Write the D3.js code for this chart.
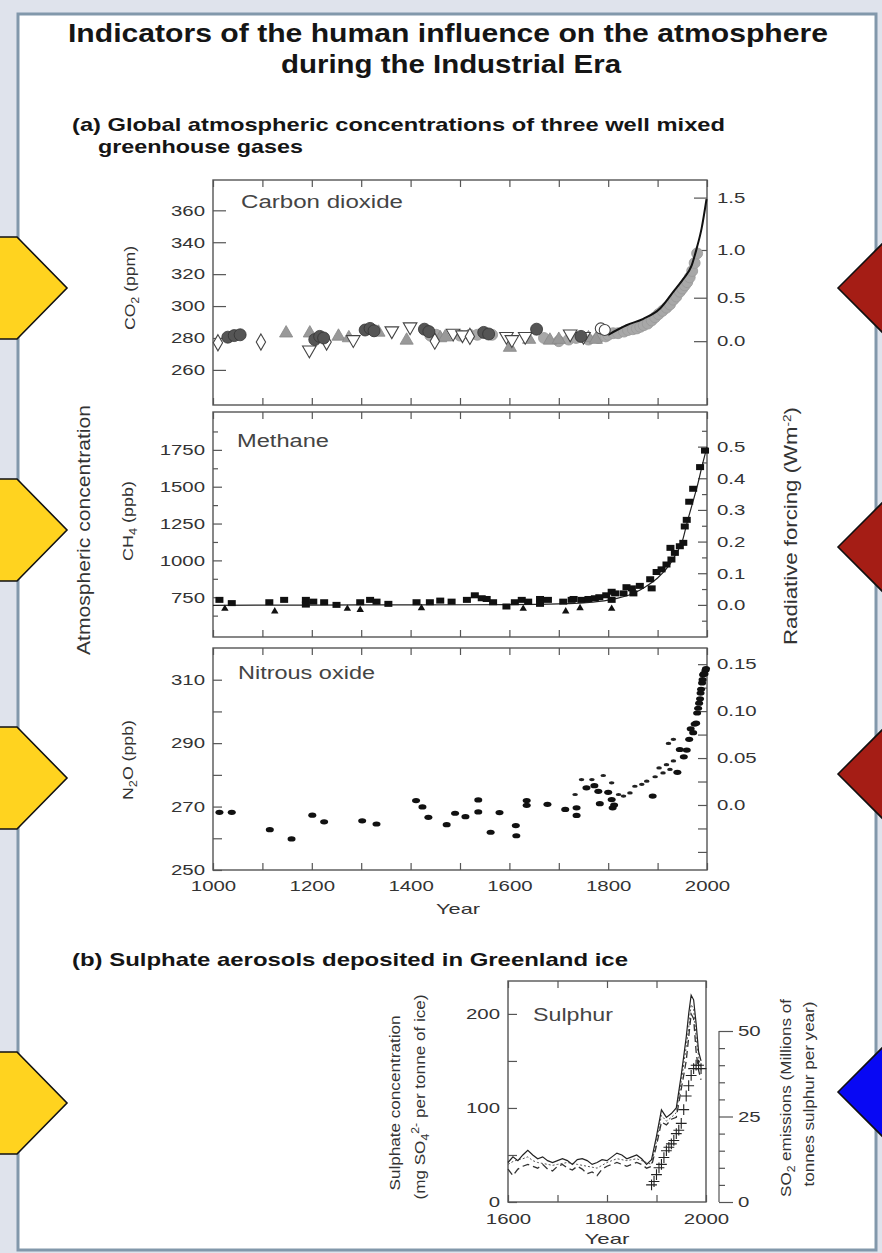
<!DOCTYPE html>
<html>
<head>
<meta charset="utf-8">
<script src="https://cdn.jsdelivr.net/npm/d3@7"></script>
<style>
  body { margin: 0; background: #dfe3ec; }
  text { font-family: "Liberation Sans", Arial, sans-serif; }
</style>
</head>
<body>
<svg id="chart" width="882" height="1253"></svg>
<script>
// ---- data ----

// CO2 (ppm) ice core / firn records, by marker type
const co2FilledCircles = [[1030,280.5],[1043,281.5],[1055,282],[1206,279],[1216,281],[1224,280],[1308,285],[1318,286],[1326,284.5],[1428,285.5],[1437,284],[1548,283.5],[1558,282.5],[1655,285.5],[1745,281]];
const co2OpenTriangles = [[1195,272.5],[1284,279],[1362,284.5],[1399,287],[1486,283],[1505,282],[1594,281],[1605,279],[1632,281],[1723,282.5],[1750,281]];
const co2GrayTriangles = [[1148,283],[1196,283],[1254,281],[1275,280],[1335,283.5],[1392,278.5],[1460,280],[1470,280.5],[1601,274],[1640,279],[1682,278.5],[1700,279],[1760,280],[1775,279]];
const co2Diamonds = [[1010,277],[1097,277.5],[1230,277.5],[1449,278],[1520,281]];
const co2OpenCircles = [[1785,286],[1793,285]];
const co2GrayCircles = [[1440,281.5],[1452,282],[1500,281.5],[1520,282],[1535,282],[1565,282],[1670,280],[1700,278],[1720,279],[1735,280],[1760,279],[1780,280],[1795,281],[1800,282],[1810,283],[1820,283],[1832,284],[1840,285],[1850,285.5],[1858,286],[1865,287],[1872,288],[1880,289],[1888,291],[1895,293],[1902,295],[1910,297],[1918,299],[1925,301],[1932,304],[1938,306],[1945,309],[1950,311],[1955,313],[1960,315],[1965,318],[1970,322],[1975,327],[1980,333]];
const co2Curve = [[1800,282],[1837,288],[1871,292],[1905,298.5],[1932,309],[1952,317],[1969,325.5],[1979,336],[1989,348.5],[1999,367]];
const co2ForcingTicks = [0, 0.5, 1.0, 1.5];

// CH4 (ppb)
const ch4Squares = [[1013,732],[1038,710],[1114,716],[1144,732],[1188,732],[1188,700],[1203,720],[1225,716],[1250,698],[1298,716],[1318,732],[1331,720],[1355,705],[1412,716],[1439,716],[1460,727],[1483,720],[1514,732],[1530,763],[1544,743],[1554,738],[1567,716],[1594,687],[1611,716],[1625,732],[1638,720],[1662,738],[1662,705],[1678,732],[1709,720],[1726,732],[1730,738],[1746,732],[1760,738],[1773,743],[1782,750],[1796,763],[1807,787],[1807,732],[1814,776],[1831,776],[1837,818],[1848,810],[1851,776],[1864,827],[1885,872],[1888,810],[1898,921],[1908,939],[1918,972],[1928,1006],[1926,1085],[1935,1051],[1945,1096],[1952,1119],[1955,1230],[1959,1275],[1964,1398],[1972,1486],[1986,1633],[1996,1745]];
const ch4Triangles = [[1024,672],[1125,654],[1272,672],[1298,665],[1422,676],[1628,672],[1714,654],[1743,676],[1807,672]];
const ch4Curve = [[1000,695],[1200,697],[1400,698],[1600,700],[1700,705],[1750,712],[1800,730],[1850,775],[1875,820],[1900,880],[1925,975],[1940,1060],[1950,1130],[1960,1260],[1970,1380],[1980,1500],[1990,1640],[2000,1770]];
const ch4ForcingTicks = [0, 0.1, 0.2, 0.3, 0.4, 0.5];

// N2O (ppb)
const n2oPoints = [[1013,268.2],[1038,268.2],[1115,262.7],[1159,259.8],[1201,267.3],[1225,265.2],[1302,265.5],[1331,264.5],[1411,271.9],[1424,269.9],[1436,266.6],[1473,264.3],[1490,267.9],[1511,266.8],[1537,272.1],[1537,268.3],[1562,261.9],[1580,268.1],[1613,264],[1614,260.8],[1635,271.9],[1635,270.4],[1677,270.7],[1713,269.1],[1736,269.6],[1736,267.2],[1756,275.9],[1772,276.6],[1780,274.8],[1783,270.9],[1800,274.5],[1807,272.2],[1809,269.6],[1812,270.5],[1890,273.3],[1940,280.8],[1945,288],[1953,285.7],[1959,287.8],[1964,291.2],[1967,294.5],[1972,293.3],[1975,296],[1978,296.3],[1980,299.5],[1982,301],[1984,302.6],[1986,304],[1987,305.8],[1988,307],[1990,309],[1991,310],[1992,311.6],[1994,312],[1995,311.8],[1997,313],[1998,313.5]];
const n2oSmall = [[1733,273.8],[1746,278.5],[1767,278.5],[1790,279.8],[1807,277.5],[1821,273.8],[1831,273.3],[1844,274.3],[1854,276.4],[1868,277],[1878,278],[1895,279.4],[1903,282.2],[1911,280.6],[1918,283.2],[1925,281.7],[1932,284.4],[1922,289.9],[1932,291.2]];
const n2oForcingTicks = [0, 0.05, 0.10, 0.15];

// Sulphate in Greenland ice (mg SO4 per tonne of ice), three cores
const sulphurYears = [1600,1610,1620,1630,1640,1650,1660,1670,1680,1690,1700,1710,1720,1730,1740,1750,1760,1770,1780,1790,1800,1810,1820,1830,1840,1850,1860,1870,1880,1890,1900,1910,1920,1930,1940,1950,1960,1965,1970,1975,1980,1985,1990];
const sulphurCoreA = [42,48,44,50,55,50,46,48,44,42,44,46,44,40,45,46,44,40,42,45,44,48,52,50,46,48,50,46,40,45,70,98,90,94,100,135,175,200,220,215,190,160,150];
const sulphurCoreB = [35,28,35,38,40,38,36,40,35,33,38,40,36,34,38,35,30,32,28,35,38,40,42,40,38,40,42,40,36,38,60,85,82,88,90,120,150,175,200,195,160,140,130];
const sulphurCoreC = [40,43,45,46,48,44,42,41,40,39,40,41,42,41,40,39,38,37,36,39,42,44,46,45,44,45,46,44,42,40,65,92,86,90,95,128,165,185,210,205,175,155,140];
// SO2 emissions (millions of tonnes sulphur per year)
const so2Emissions = [[1890,5],[1895,6],[1900,8],[1905,10],[1910,11],[1915,13],[1920,15],[1925,16],[1930,17],[1935,18],[1940,20],[1945,21],[1950,23],[1955,27],[1960,31],[1965,34],[1970,37],[1975,39],[1980,40],[1985,40],[1990,39]];

// tick values
const yearTicks = [1000,1100,1200,1300,1400,1500,1600,1700,1800,1900,2000];
const yearLabels = [1000,1200,1400,1600,1800,2000];
const co2Ticks = [260,280,300,320,340,360];
const ch4Ticks = [750,1000,1250,1500,1750];
const ch4Minor = [625,875,1125,1375,1625,1875];
const ch4ForcingMinor = [-0.05,0.05,0.15,0.25,0.35,0.45,0.55];
const n2oTicks = [250,270,290,310];
const n2oMinor = [260,280,300];
const n2oForcingMinor = [-0.05,-0.025,0.025,0.075,0.125];
const sulphurYearTicks = [1600,1700,1800,1900,2000];
const sulphurYearLabels = [1600,1800,2000];
const sulphurTicks = [0,100,200];
const sulphurMinor = [50,150];
const so2Ticks = [0,25,50];
const so2Minor = [5,10,15,20,30,35,40,45];

// ---- page ----
const svg = d3.select("#chart");
const ink = "#333";
const widen = 1.36;   // the reference lettering is drawn wide

// set a text to a given length
function fit(sel, len) {
  return sel.attr("textLength", len).attr("lengthAdjust", "spacingAndGlyphs");
}
// widen every text of a selection by a factor
function stretch(sel, k) {
  sel.each(function () {
    const w = this.getComputedTextLength();
    d3.select(this).attr("textLength", w * k).attr("lengthAdjust", "spacingAndGlyphs");
  });
}

// white sheet with its border
svg.append("rect").attr("x", 18).attr("y", 14).attr("width", 858).attr("height", 1236)
  .attr("fill", "#fff").attr("stroke", "#8298ab").attr("stroke-width", 3);

// titles
function headline(px, py, size, anchor, txt, len) {
  const t = svg.append("text").attr("x", px).attr("y", py).attr("text-anchor", anchor)
    .attr("font-size", size).attr("font-weight", "bold").attr("fill", "#151515").text(txt);
  fit(t, len);
}
headline(448, 42, 25, "middle", "Indicators of the human influence on the atmosphere", 760);
headline(451, 73, 25, "middle", "during the Industrial Era", 340);
headline(72, 131, 18.5, "start", "(a) Global atmospheric concentrations of three well mixed", 653);
headline(98, 153, 18.5, "start", "greenhouse gases", 205);
headline(72, 966, 18.5, "start", "(b)  Sulphate aerosols deposited in Greenland ice", 556);

// shared year scale for panel (a)
const x = d3.scaleLinear().domain([1000, 2000]).range([213, 707]);

// style an axis group
function tidy(g, size) {
  g.select(".domain").remove();
  g.selectAll("line").attr("stroke", "#555").attr("stroke-width", 1.2);
  g.selectAll("text").attr("font-family", "Liberation Sans, Arial, sans-serif")
    .attr("font-size", size || 15).attr("fill", ink);
  stretch(g.selectAll("text"), widen);
}

function frame(xs, ys) {
  svg.append("rect")
    .attr("x", xs.range()[0]).attr("y", ys.range()[1])
    .attr("width", xs.range()[1] - xs.range()[0]).attr("height", ys.range()[0] - ys.range()[1])
    .attr("fill", "none").attr("stroke", "#555").attr("stroke-width", 1.4);
}

function yearTickMarks(xs, ys, values, len) {
  svg.append("g").attr("transform", "translate(0," + ys.range()[0] + ")")
    .call(d3.axisBottom(xs).tickValues(values).tickSizeInner(-len).tickSizeOuter(0).tickFormat(""))
    .call(g => tidy(g));
  svg.append("g").attr("transform", "translate(0," + ys.range()[1] + ")")
    .call(d3.axisTop(xs).tickValues(values).tickSizeInner(-len).tickSizeOuter(0).tickFormat(""))
    .call(g => tidy(g));
}

function leftAxis(xs, ys, values, len, minor, minorLen) {
  svg.append("g").attr("transform", "translate(" + xs.range()[0] + ",0)")
    .call(d3.axisLeft(ys).tickValues(values).tickSizeInner(-len).tickSizeOuter(0).tickPadding(8).tickFormat(d3.format("d")))
    .call(g => tidy(g));
  if (minor) {
    svg.append("g").attr("transform", "translate(" + xs.range()[0] + ",0)")
      .call(d3.axisLeft(ys).tickValues(minor).tickSizeInner(-minorLen).tickSizeOuter(0).tickFormat(""))
      .call(g => tidy(g));
  }
}

function rightAxis(xs, ys, values, fmt, len, minor, minorLen) {
  svg.append("g").attr("transform", "translate(" + xs.range()[1] + ",0)")
    .call(d3.axisRight(ys).tickValues(values).tickSizeInner(-len).tickSizeOuter(0).tickPadding(10).tickFormat(fmt))
    .call(g => tidy(g));
  if (minor) {
    svg.append("g").attr("transform", "translate(" + xs.range()[1] + ",0)")
      .call(d3.axisRight(ys).tickValues(minor).tickSizeInner(-minorLen).tickSizeOuter(0).tickFormat(""))
      .call(g => tidy(g));
  }
}

function panelLabel(px, py, txt, len) {
  fit(svg.append("text").attr("x", px).attr("y", py).attr("font-size", 17.5).attr("fill", "#444").text(txt), len);
}

// rotated axis title; parts = [[text, dy, size]]
function vTitle(cx, cy, size, len, parts) {
  const t = svg.append("text").attr("transform", "translate(" + cx + "," + cy + ") rotate(-90)")
    .attr("text-anchor", "middle").attr("font-size", size).attr("fill", ink);
  parts.forEach(p => t.append("tspan").attr("dy", p[1] || 0).attr("font-size", p[2] || size).text(p[0]));
  fit(t, len);
  return t;
}

const oneDecimal = d3.format(".1f");
const n2oFormat = d => d === 0 ? "0.0" : d3.format(".2f")(d);

// ---- Carbon dioxide ----
const yCO2 = d3.scaleLinear().domain([238, 379]).range([405, 180]);
const yCO2Forcing = d3.scaleLinear().domain(co2ForcingTicks)
  .range(co2ForcingTicks.map(f => yCO2(278 * Math.exp(f / 5.35))));

frame(x, yCO2);
yearTickMarks(x, yCO2, yearTicks, 7);
leftAxis(x, yCO2, co2Ticks, 13);
rightAxis(x, yCO2Forcing, co2ForcingTicks, oneDecimal, 13);
panelLabel(241, 208, "Carbon dioxide", 162);
vTitle(135, 288, 14, 84, [["CO"], ["2", 4, 10], [" (ppm)", -4]]);

const co2 = svg.append("g");
co2.selectAll(".gc").data(co2GrayCircles).enter().append("circle")
  .attr("cx", d => x(d[0])).attr("cy", d => yCO2(d[1])).attr("r", 5.5)
  .attr("fill", "#a8a8a8").attr("stroke", "#999").attr("stroke-width", 0.8);
co2.append("path").datum(co2Curve)
  .attr("d", d3.line().x(d => x(d[0])).y(d => yCO2(d[1])).curve(d3.curveMonotoneX))
  .attr("fill", "none").attr("stroke", "#111").attr("stroke-width", 2);
co2.selectAll(".gt").data(co2GrayTriangles).enter().append("path")
  .attr("transform", d => "translate(" + x(d[0]) + "," + yCO2(d[1]) + ")")
  .attr("d", d3.symbol(d3.symbolTriangle, 75))
  .attr("fill", "#999").attr("stroke", "#888").attr("stroke-width", 0.8);
co2.selectAll(".ot").data(co2OpenTriangles).enter().append("path")
  .attr("transform", d => "translate(" + x(d[0]) + "," + yCO2(d[1]) + ") rotate(180)")
  .attr("d", d3.symbol(d3.symbolTriangle, 80))
  .attr("fill", "#fff").attr("stroke", "#444").attr("stroke-width", 1.1);
co2.selectAll(".dm").data(co2Diamonds).enter().append("path")
  .attr("transform", d => "translate(" + x(d[0]) + "," + yCO2(d[1]) + ")")
  .attr("d", d3.symbol(d3.symbolDiamond, 75))
  .attr("fill", "#fff").attr("stroke", "#444").attr("stroke-width", 1.1);
co2.selectAll(".oc").data(co2OpenCircles).enter().append("circle")
  .attr("cx", d => x(d[0])).attr("cy", d => yCO2(d[1])).attr("r", 5.5)
  .attr("fill", "#fff").attr("stroke", "#444").attr("stroke-width", 1.1);
co2.selectAll(".fc").data(co2FilledCircles).enter().append("circle")
  .attr("cx", d => x(d[0])).attr("cy", d => yCO2(d[1])).attr("r", 6)
  .attr("fill", "#555").attr("stroke", "#333").attr("stroke-width", 0.8);

// ---- Methane ----
const yCH4 = d3.scaleLinear().domain([480, 2007]).range([637, 412]);
const yCH4Forcing = d3.scaleLinear().domain([0, 0.5]).range([yCH4(698), yCH4(1772)]);

frame(x, yCH4);
yearTickMarks(x, yCH4, yearTicks, 7);
leftAxis(x, yCH4, ch4Ticks, 9, ch4Minor, 5);
rightAxis(x, yCH4Forcing, ch4ForcingTicks, oneDecimal, 9, ch4ForcingMinor, 5);
panelLabel(237, 447, "Methane", 92);
vTitle(133, 521, 14, 80, [["CH"], ["4", 4, 10], [" (ppb)", -4]]);

svg.append("path").datum(ch4Curve)
  .attr("d", d3.line().x(d => x(d[0])).y(d => yCH4(d[1])).curve(d3.curveMonotoneX))
  .attr("fill", "none").attr("stroke", "#222").attr("stroke-width", 1.2);
svg.selectAll(".ch4s").data(ch4Squares).enter().append("rect")
  .attr("x", d => x(d[0]) - 4).attr("y", d => yCH4(d[1]) - 3).attr("width", 8).attr("height", 6)
  .attr("fill", "#111");
svg.selectAll(".ch4t").data(ch4Triangles).enter().append("path")
  .attr("transform", d => "translate(" + x(d[0]) + "," + yCH4(d[1]) + ")")
  .attr("d", d3.symbol(d3.symbolTriangle, 24)).attr("fill", "#111");

// ---- Nitrous oxide ----
const yN2O = d3.scaleLinear().domain([250, 320]).range([870, 648]);
const yN2OForcing = d3.scaleLinear().domain([0, 0.15]).range([yN2O(270.5), yN2O(314.9)]);

frame(x, yN2O);
yearTickMarks(x, yN2O, yearTicks, 7);
leftAxis(x, yN2O, n2oTicks, 9, n2oMinor, 9);
rightAxis(x, yN2OForcing, n2oForcingTicks, n2oFormat, 9, n2oForcingMinor, 9);
panelLabel(238, 679, "Nitrous oxide", 137);
vTitle(133, 760, 14, 80, [["N"], ["2", 4, 10], ["O (ppb)", -4]]);

svg.append("g").attr("transform", "translate(0," + yN2O.range()[0] + ")")
  .call(d3.axisBottom(x).tickValues(yearLabels).tickSize(0).tickPadding(10).tickFormat(d3.format("d")))
  .call(g => tidy(g, 15));
fit(svg.append("text").attr("x", 458).attr("y", 914).attr("text-anchor", "middle")
  .attr("font-size", 15).attr("fill", ink).text("Year"), 44);

svg.selectAll(".n2os").data(n2oSmall).enter().append("ellipse")
  .attr("cx", d => x(d[0])).attr("cy", d => yN2O(d[1])).attr("rx", 2.8).attr("ry", 1.6).attr("fill", "#222");
svg.selectAll(".n2o").data(n2oPoints).enter().append("ellipse")
  .attr("cx", d => x(d[0])).attr("cy", d => yN2O(d[1])).attr("rx", 4).attr("ry", 2.6).attr("fill", "#111");

// shared side titles
vTitle(90, 530, 18, 250, [["Atmospheric concentration"]]);
vTitle(797, 526, 18, 238, [["Radiative forcing  (Wm"], ["-2", -6, 11], [")", 6]]);

// ---- Sulphur ----
const xS = d3.scaleLinear().domain([1600, 2000]).range([508, 706]);
const yS = d3.scaleLinear().domain([0, 235]).range([1202, 981]);
const yE = d3.scaleLinear().domain([0, 50]).range([1202, 1031]);

frame(xS, yS);
yearTickMarks(xS, yS, sulphurYearTicks, 7);
leftAxis(xS, yS, sulphurTicks, 9, sulphurMinor, 9);
svg.append("g").attr("transform", "translate(0," + yS.range()[0] + ")")
  .call(d3.axisBottom(xS).tickValues(sulphurYearLabels).tickSize(0).tickPadding(11).tickFormat(d3.format("d")))
  .call(g => tidy(g, 15));
fit(svg.append("text").attr("x", 607).attr("y", 1244).attr("text-anchor", "middle")
  .attr("font-size", 15).attr("fill", ink).text("Year"), 45);
panelLabel(533, 1021, "Sulphur", 80);

// emissions axis, detached to the right of the frame
const eAxisX = 719;
svg.append("line").attr("x1", eAxisX).attr("x2", eAxisX).attr("y1", yE(0)).attr("y2", yE(50))
  .attr("stroke", "#555").attr("stroke-width", 1.2);
svg.append("g").attr("transform", "translate(" + eAxisX + ",0)")
  .call(d3.axisRight(yE).tickValues(so2Ticks).tickSizeInner(14).tickSizeOuter(0).tickPadding(5))
  .call(g => tidy(g));
svg.append("g").attr("transform", "translate(" + eAxisX + ",0)")
  .call(d3.axisRight(yE).tickValues(so2Minor).tickSizeInner(6).tickSizeOuter(0).tickFormat(""))
  .call(g => tidy(g));

const sLine = d3.line().x((d, i) => xS(sulphurYears[i])).y(d => yS(d));
svg.append("path").datum(sulphurCoreC).attr("d", sLine)
  .attr("fill", "none").attr("stroke", "#555").attr("stroke-width", 1).attr("stroke-dasharray", "2,2");
svg.append("path").datum(sulphurCoreB).attr("d", sLine)
  .attr("fill", "none").attr("stroke", "#333").attr("stroke-width", 1.3).attr("stroke-dasharray", "7,4");
svg.append("path").datum(sulphurCoreA).attr("d", sLine)
  .attr("fill", "none").attr("stroke", "#222").attr("stroke-width", 1.2);
svg.selectAll(".so2").data(so2Emissions).enter().append("path")
  .attr("transform", d => "translate(" + xS(d[0]) + "," + yE(d[1]) + ")")
  .attr("d", d3.symbol(d3.symbolPlus, 40)).attr("fill", "none").attr("stroke", "#222").attr("stroke-width", 1.1);

vTitle(400, 1103, 14, 175, [["Sulphate concentration"]]);
vTitle(425, 1097, 14, 205, [["(mg SO"], ["4", 4, 10], ["2-", -10, 10], [" per tonne of ice)", 6]]);
vTitle(791, 1098, 14, 198, [["SO"], ["2", 4, 10], [" emissions (Millions of", -4]]);
vTitle(814, 1094, 14, 185, [["tonnes sulphur per year)"]]);

// ---- coloured side markers ----
const yellowTips = [288, 530, 778, 1103];
const redTips = [[288, 44], [547, 51], [774, 51]];
const blueTip = [1092, 48];

yellowTips.forEach(c => {
  svg.append("polygon")
    .attr("points", [[-5, c - 51], [17, c - 51], [67, c], [17, c + 51], [-5, c + 51]].join(" "))
    .attr("fill", "#ffd31f").attr("stroke", "#111").attr("stroke-width", 1.6);
});
function sideDiamond(c, h, col) {
  svg.append("polygon")
    .attr("points", [[838, c], [838 + h, c - h], [838 + 2 * h, c], [838 + h, c + h]].join(" "))
    .attr("fill", col).attr("stroke", "#111").attr("stroke-width", 1.6);
}
redTips.forEach(d => sideDiamond(d[0], d[1], "#a51d15"));
sideDiamond(blueTip[0], blueTip[1], "#0808f4");
</script>
</body>
</html>
